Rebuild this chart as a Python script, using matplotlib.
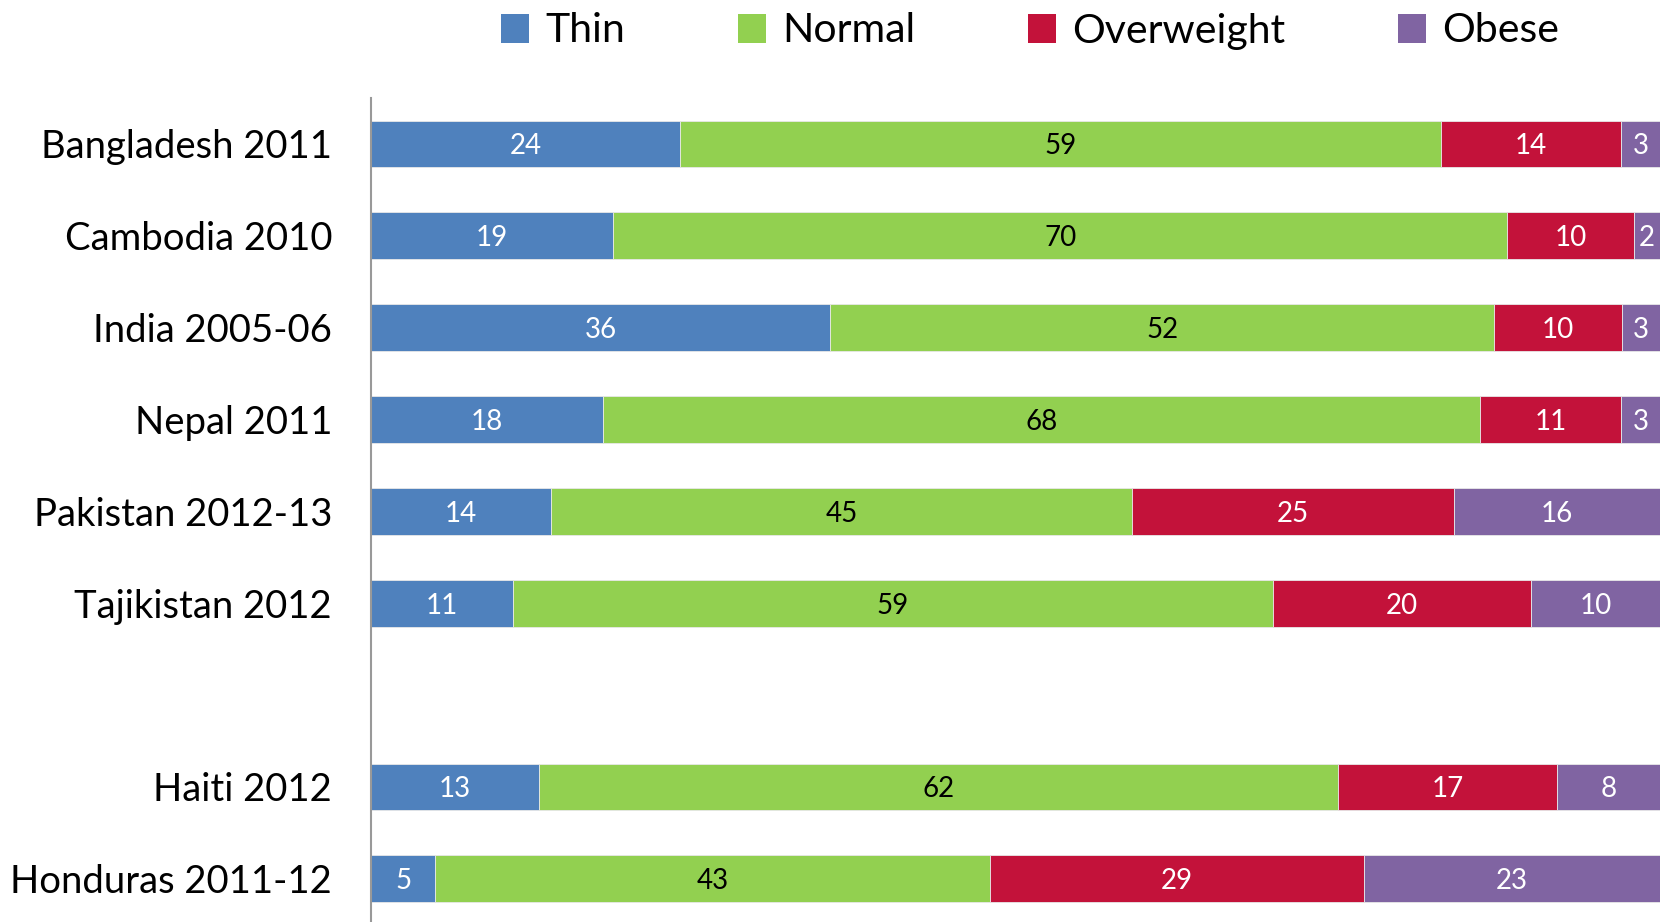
import matplotlib
matplotlib.use("Agg")
import matplotlib.pyplot as plt
import numpy as np
from matplotlib.patches import Patch

plt.rcParams['font.family'] = ['Lato', 'DejaVu Sans']

categories = ["Bangladesh 2011", "Cambodia 2010", "India 2005-06", "Nepal 2011",
              "Pakistan 2012-13", "Tajikistan 2012", "", "Haiti 2012", "Honduras 2011-12"]
series_names = ["Thin", "Normal", "Overweight", "Obese"]
thin       = [24, 19, 36, 18, 14, 11, 0, 13, 5]
normal     = [59, 70, 52, 68, 45, 59, 0, 62, 43]
overweight = [14, 10, 10, 11, 25, 20, 0, 17, 29]
obese      = [3, 2, 3, 3, 16, 10, 0, 8, 23]

colors = ["#4F81BD", "#92D050", "#C3123A", "#8064A2"]
label_colors = ["white", "black", "white", "white"]

data = np.array([thin, normal, overweight, obese], dtype=float)
totals = data.sum(axis=0)
totals[totals == 0] = 1
shares = data / totals * 100

fig = plt.figure(figsize=(16.69, 9.22), dpi=100)
ax = fig.add_axes([371/1669, 0, (1660-371)/1669, 1 - 98/922])

y = np.arange(len(categories))
left = np.zeros(len(categories))
for i, name in enumerate(series_names):
    mask = data[i] > 0
    bars = ax.barh(y[mask], shares[i][mask], left=left[mask], height=0.51,
                   color=colors[i], edgecolor="#e8e8e8", linewidth=0.6, label=name)
    for b, v in zip(bars, data[i][mask]):
        ax.text(b.get_x() + b.get_width()/2, b.get_y() + b.get_height()/2,
                f"{int(v)}", ha="center", va="center_baseline", fontsize=20,
                color=label_colors[i])
    left = left + shares[i]

ax.set_xlim(0, 100)
ax.set_ylim(8.47, -0.5)
ax.set_yticks(y)
ax.set_yticklabels(categories, fontsize=27.5)
for t in ax.get_yticklabels():
    t.set_verticalalignment("center_baseline")
ax.tick_params(axis="y", length=0, pad=28)
ax.set_xticks([])
for s in ["top", "right", "bottom"]:
    ax.spines[s].set_visible(False)
ax.spines["left"].set_color("#999999")
ax.spines["left"].set_linewidth(1.5)

handles = [Patch(facecolor=c, label=n) for c, n in zip(colors, series_names)]
fig.legend(handles=handles, loc="center", bbox_to_anchor=(1030/1669, 1 - 31/922),
           ncol=4, frameon=False, fontsize=29.5, handlelength=0.68, handleheight=0.72,
           handletextpad=0.4, columnspacing=2.75)

fig.savefig("out.png", dpi=100)
